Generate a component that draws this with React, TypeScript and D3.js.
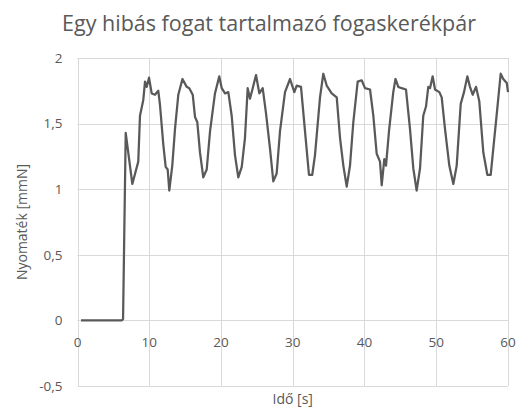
import React from 'react'
import {scaleLinear, line} from 'd3'

const title = 'Egy hibás fogat tartalmazó fogaskerékpár'
const xLabel = 'Idő [s]'
const yLabel = 'Nyomaték [mmN]'
const xTicks = [0, 10, 20, 30, 40, 50, 60]
const yTicks = [-0.5, 0, 0.5, 1, 1.5, 2]

// time [s]
const times = [
  0.49, 6.2, 6.35, 6.72, 7.64, 8.47, 8.71, 9.17, 9.41, 9.64, 9.97, 10.34, 10.8, 11.26, 11.5, 11.96,
  12.29, 12.57, 12.79, 13.21, 13.59, 14.05, 14.63, 15.22, 15.58, 16.06, 16.38, 16.7, 17.07, 17.53,
  18.01, 18.47, 19.16, 19.76, 20.1, 20.56, 21.02, 21.49, 21.95, 22.41, 22.89, 23.34, 23.72, 24.04,
  24.42, 24.88, 25.34, 25.81, 26.27, 26.83, 27.29, 27.76, 28.22, 28.92, 29.62, 30.22, 30.55, 31.15,
  31.71, 32.26, 32.72, 33.1, 33.8, 34.26, 34.73, 35.43, 36.13, 36.59, 37.05, 37.52, 37.98, 38.44,
  39.05, 39.61, 40.07, 40.77, 41.23, 41.7, 42.16, 42.4, 42.76, 43.0, 43.41, 44.01, 44.32, 44.71,
  45.18, 45.78, 46.34, 46.8, 47.27, 47.74, 48.19, 48.57, 48.89, 49.13, 49.5, 49.83, 50.43, 50.76,
  51.22, 51.82, 52.38, 52.85, 53.41, 53.87, 54.33, 54.7, 55.08, 55.54, 56.0, 56.56, 57.12, 57.59,
  57.95, 58.41, 58.98, 59.34, 59.83, 60.0
]
// torque [mmN]
const torque = [
  0, 0, 0.01, 1.43, 1.04, 1.21, 1.56, 1.68, 1.82, 1.78, 1.85, 1.73, 1.72, 1.75, 1.64, 1.34,
  1.17, 1.15, 0.99, 1.18, 1.46, 1.72, 1.84, 1.78, 1.77, 1.72, 1.55, 1.51, 1.28, 1.09,
  1.15, 1.44, 1.73, 1.86, 1.77, 1.73, 1.74, 1.56, 1.26, 1.09, 1.17, 1.39, 1.77, 1.69,
  1.77, 1.87, 1.73, 1.77, 1.58, 1.31, 1.06, 1.12, 1.44, 1.74, 1.84, 1.74, 1.79, 1.78,
  1.44, 1.11, 1.11, 1.26, 1.7, 1.88, 1.79, 1.73, 1.7, 1.39, 1.18, 1.02, 1.18, 1.51,
  1.82, 1.83, 1.77, 1.76, 1.56, 1.27, 1.21, 1.03, 1.23, 1.18, 1.44, 1.74, 1.84, 1.78,
  1.77, 1.76, 1.46, 1.16, 0.99, 1.16, 1.56, 1.63, 1.78, 1.77, 1.86, 1.76, 1.74, 1.7,
  1.46, 1.18, 1.04, 1.18, 1.65, 1.74, 1.86, 1.78, 1.72, 1.78, 1.67, 1.28, 1.11, 1.11,
  1.31, 1.56, 1.88, 1.84, 1.81, 1.74
]

const W = 518
const H = 410
const margin = {top: 58, right: 10, bottom: 24, left: 77.5}
const font = "'Open Sans', sans-serif"
const textColor = '#595959'

export default function App() {
  const x = scaleLinear()
    .domain([0, 60])
    .range([margin.left, W - margin.right])
  const y = scaleLinear()
    .domain([-0.5, 2])
    .range([H - margin.bottom, margin.top])

  const path = line<number>()
    .x((d, i) => x(times[i]))
    .y(d => y(d))(torque)

  const fmt = (v: number) => String(v).replace('.', ',')

  return (
    <svg
      width={W}
      height={H}
      style={{position: 'absolute', left: 0, top: 0, background: '#fff'}}
      fontFamily={font}
    >
      <rect width={W} height={H} fill="#fff" />
      <text x={269} y={31} textAnchor="middle" fontSize={21.5} fill={textColor}>
        {title}
      </text>
      {/* grid */}
      <g stroke="#d9d9d9" strokeWidth={1}>
        {yTicks.map(t => (
          <line key={'y' + t} x1={x(0)} x2={x(60)} y1={Math.round(y(t)) + 0.5} y2={Math.round(y(t)) + 0.5} />
        ))}
        {xTicks.map(t => (
          <line key={'x' + t} x1={Math.round(x(t)) + 0.5} x2={Math.round(x(t)) + 0.5} y1={y(2)} y2={y(-0.5)} />
        ))}
      </g>
      {/* tick labels */}
      <g fontSize={13.5} fill={textColor}>
        {yTicks.map(t => (
          <text key={'yl' + t} x={x(0) - 15} y={y(t)} dy="0.35em" textAnchor="end">
            {fmt(t)}
          </text>
        ))}
        {xTicks.map(t => (
          <text key={'xl' + t} x={x(t)} y={y(0) + 22} dy="0.35em" textAnchor="middle">
            {fmt(t)}
          </text>
        ))}
      </g>
      <path d={path || ''} fill="none" stroke="#595959" strokeWidth={2.25} strokeLinejoin="round" />
      <text
        transform={`translate(22,${(y(2) + y(-0.5)) / 2}) rotate(-90)`}
        textAnchor="middle"
        dy="0.35em"
        fontSize={14}
        fill={textColor}
      >
        {yLabel}
      </text>
      <text x={(x(0) + x(60)) / 2} y={399} dy="0.35em" textAnchor="middle" fontSize={14} fill={textColor}>
        {xLabel}
      </text>
    </svg>
  )
}
